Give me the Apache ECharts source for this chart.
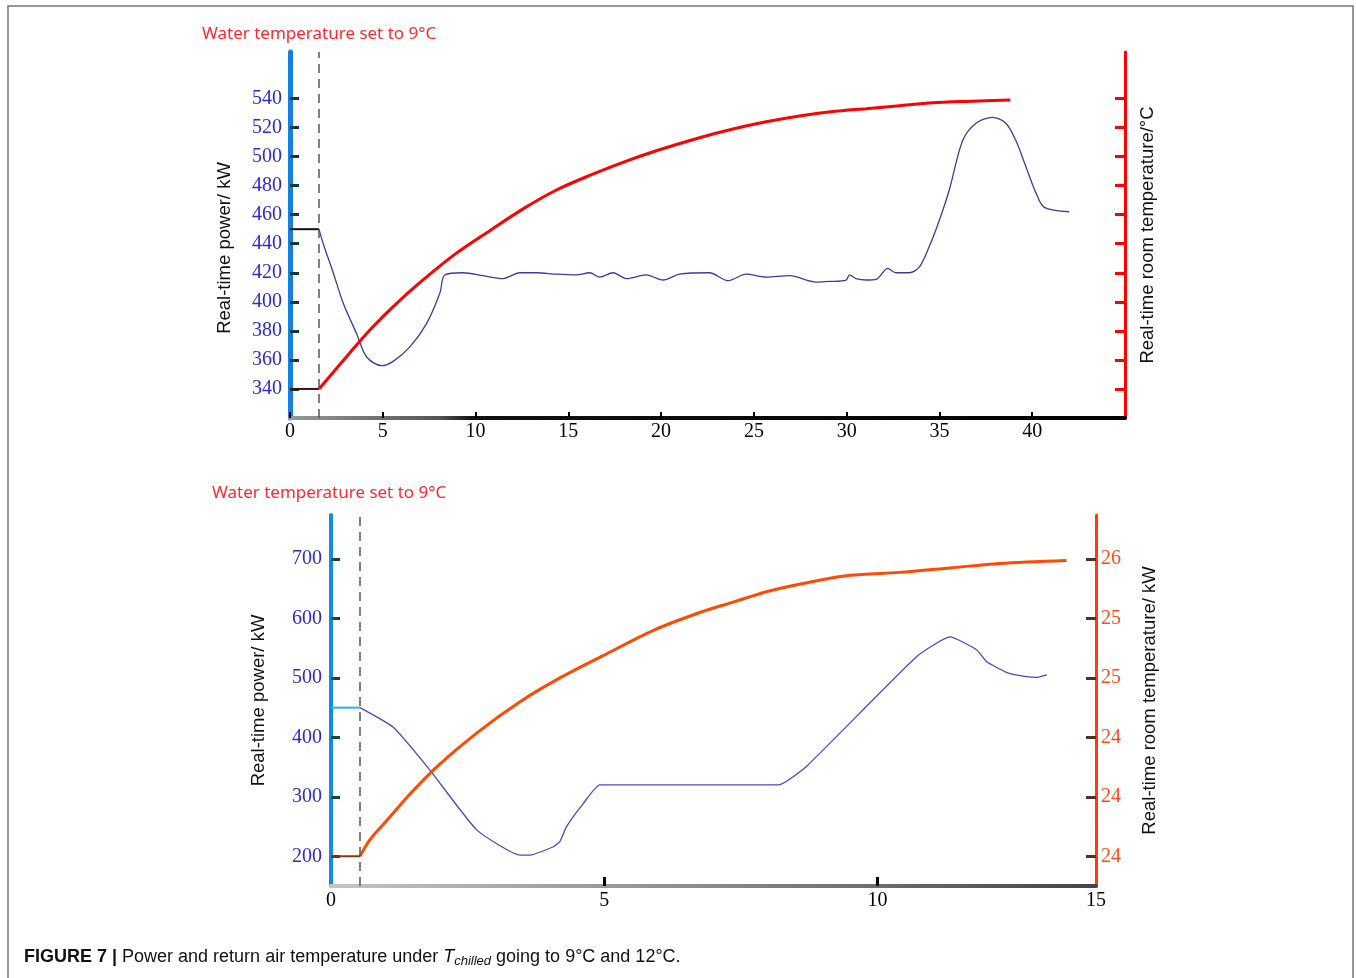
<!DOCTYPE html>
<html>
<head>
<meta charset="utf-8">
<title>Figure 7</title>
<script src="https://cdn.jsdelivr.net/npm/echarts@6/dist/echarts.min.js"></script>
<style>
    html, body { margin: 0; padding: 0; background: #fff; }
    #chart { width: 1356px; height: 978px; }
</style>
</head>
<body>
<div id="chart"></div>
<script>
    // ---- data ----
    // top panel (time in min, power in kW)
    const topPowerTime = [1.56, 1.79, 2.33, 2.87, 3.59, 4.13, 4.94, 5.56, 6.46, 7.36, 8.08, 8.34, 9.33, 10.41, 11.48, 12.38, 13.28, 14.36, 15.43, 16.15, 16.69, 17.41, 18.13, 19.20, 20.10, 21.00, 22.61, 23.60, 24.59, 25.66, 26.92, 28.36, 29.07, 29.97, 30.15, 30.51, 31.05, 31.59, 32.21, 32.66, 33.38, 33.92, 34.45, 34.99, 35.53, 36.25, 36.97, 37.86, 38.58, 39.12, 39.66, 40.20, 40.65, 41.99];
    const topPowerKW = [450, 440, 420, 399, 378, 362, 356, 359, 369, 385, 406, 418.5, 420, 418, 416, 420, 420, 419, 418.5, 420, 417, 420, 416, 418.5, 415, 419, 420, 414.5, 419, 417, 418, 413.6, 414, 415, 418.5, 416, 415, 415.5, 423, 420, 420, 424, 438, 456, 477, 511, 523, 527, 523, 511, 493, 475, 465, 462];
    // room temperature, top right axis carries no numbers (same scale as left)
    const topTempTime = [1.56, 2.33, 3.23, 4.48, 5.92, 7.54, 8.97, 10.77, 12.56, 14.36, 16.15, 17.94, 19.74, 22.07, 23.87, 25.66, 27.46, 29.25, 31.05, 32.84, 34.63, 36.43, 38.82];
    const topTempVal = [340, 351.5, 365, 383, 401, 419, 433.5, 449, 464, 477, 487, 496, 504, 513, 519, 524, 528, 531, 533, 535, 537, 538, 539];
    const topPowerBefore = [[0, 450], [1.56, 450]];
    const topTempBefore = [[0, 340], [1.56, 340]];
    const topSetPoint = 1.56;

    // bottom panel
    const botPowerTime = [0.53, 1.14, 1.81, 2.67, 3.46, 3.64, 4.07, 4.19, 4.31, 4.62, 4.92, 8.19, 8.71, 10.72, 11.33, 11.82, 12.00, 12.37, 12.73, 12.92, 13.10];
    const botPowerKW = [450, 417, 345, 244, 202, 202, 216, 225, 250, 289, 320, 320, 352, 536, 569, 547, 527, 509, 502, 501, 505];
    const botTempTime = [0.53, 0.71, 1.02, 1.45, 1.93, 2.67, 3.46, 4.19, 4.98, 5.90, 6.75, 7.36, 7.97, 8.71, 9.49, 10.40, 11.33, 12.24, 13.46];
    const botTempC = [23.60, 23.71, 23.84, 24.02, 24.20, 24.43, 24.64, 24.80, 24.95, 25.12, 25.24, 25.31, 25.38, 25.44, 25.49, 25.51, 25.54, 25.57, 25.59];
    const botPowerBefore = [[0, 450], [0.53, 450]];
    const botTempBefore = [[0, 23.6], [0.53, 23.6]];
    const botSetPoint = 0.53;

    // tick values / labels
    const topXTicks = [0, 5, 10, 15, 20, 25, 30, 35, 40];
    const topYTicks = [340, 360, 380, 400, 420, 440, 460, 480, 500, 520, 540];
    const botXTicks = [0, 5, 10, 14];
    const botXTickLabels = ['0', '5', '10', '15'];
    const botYTicks = [200, 300, 400, 500, 600, 700];
    const botTempTicks = [23.6, 24.0, 24.4, 24.8, 25.2, 25.6];

    const zip = (xs, ys) => xs.map((x, i) => [x, ys[i]]);

    const serif = 'Liberation Serif';
    const sans = 'Liberation Sans';
    const nameStyle = { color: '#111', fontFamily: sans, fontSize: 18.5 };
    const titleStyle = { color: '#ff2a2a', fontSize: 17, fontWeight: 'normal', fontFamily: 'Noto Sans' };

    const chart = echarts.init(document.getElementById('chart'));

    const dashed = (x) => ({
        silent: true,
        symbol: 'none',
        label: { show: false },
        lineStyle: { color: '#555', width: 1.5, type: [9, 6] },
        data: [{ xAxis: x }]
    });

    chart.setOption({
        backgroundColor: '#fff',
        animation: false,
        title: [
            { text: 'Water temperature set to 9°C', left: 197, top: 21, textStyle: titleStyle },
            { text: 'Water temperature set to 9°C', left: 207, top: 480, textStyle: titleStyle }
        ],
        graphic: [{
            type: 'rect',
            shape: { x: 8, y: 6, width: 1345, height: 1000 },
            style: { fill: 'none', stroke: '#777', lineWidth: 1.5 },
            silent: true
        }, {
            type: 'text',
            left: 24, top: 948,
            style: {
                text: '{b|FIGURE 7 |} Power and return air temperature under {i|T}{s|chilled} going to 9°C and 12°C.',
                fontFamily: sans, fontSize: 18, fill: '#111',
                rich: {
                    b: { fontWeight: 'bold', fontFamily: sans, fontSize: 18 },
                    i: { fontStyle: 'italic', fontFamily: sans, fontSize: 18 },
                    s: { fontStyle: 'italic', fontFamily: sans, fontSize: 13, padding: [8, 0, 0, 0] }
                }
            }
        }],
        grid: [
            { left: 290, top: 52, width: 835, height: 366 },
            { left: 331, top: 515, width: 765, height: 371 }
        ],
        xAxis: [{
            gridIndex: 0, type: 'value', min: 0, max: 45,
            axisLine: {
                lineStyle: {
                    width: 4,
                    color: new echarts.graphic.LinearGradient(0, 0, 1, 0, [
                        { offset: 0, color: '#999' }, { offset: 0.18, color: '#555' },
                        { offset: 0.22, color: '#111' }, { offset: 1, color: '#000' }
                    ])
                }
            },
            axisTick: { inside: true, length: 6, lineStyle: { color: '#000', width: 2 }, customValues: topXTicks },
            axisLabel: { customValues: topXTicks, color: '#000', fontFamily: serif, fontSize: 20, margin: 4 },
            splitLine: { show: false }
        }, {
            gridIndex: 1, type: 'value', min: 0, max: 14,
            axisLine: {
                lineStyle: {
                    width: 4,
                    color: new echarts.graphic.LinearGradient(0, 0, 1, 0, [
                        { offset: 0, color: '#c4c4c4' }, { offset: 0.5, color: '#8a8a8a' },
                        { offset: 1, color: '#444' }
                    ])
                }
            },
            axisTick: { inside: true, length: 9, lineStyle: { color: '#000', width: 3 }, customValues: [5, 10] },
            axisLabel: {
                customValues: botXTicks, color: '#000', fontFamily: serif, fontSize: 20, margin: 5,
                formatter: (v) => botXTickLabels[botXTicks.indexOf(v)]
            },
            splitLine: { show: false }
        }],
        yAxis: [{
            gridIndex: 0, type: 'value', min: 320, max: 572, position: 'left',
            name: 'Real-time power/ kW', nameLocation: 'middle', nameGap: 56,
            nameTextStyle: Object.assign({ padding: [0, 26, 0, 0] }, nameStyle),
            axisLine: { show: true, lineStyle: { color: '#1580e4', width: 5 } },
            axisTick: { show: true, inside: true, length: 9, lineStyle: { color: '#0b3b3b', width: 3 }, customValues: topYTicks },
            axisLabel: { customValues: topYTicks, color: '#2b2bd0', fontFamily: serif, fontSize: 20, margin: 8 },
            splitLine: { show: false }
        }, {
            gridIndex: 0, type: 'value', min: 320, max: 572, position: 'right',
            name: 'Real-time room temperature/°C', nameLocation: 'middle', nameGap: 13, nameRotate: 90,
            nameTextStyle: nameStyle,
            axisLine: { show: true, lineStyle: { color: '#ff0000', width: 3 } },
            axisTick: { show: true, inside: true, length: 10, lineStyle: { color: '#ff0000', width: 3 }, customValues: topYTicks },
            axisLabel: { show: false },
            splitLine: { show: false }
        }, {
            gridIndex: 1, type: 'value', min: 150, max: 774, position: 'left',
            name: 'Real-time power/ kW', nameLocation: 'middle', nameGap: 63,
            nameTextStyle: nameStyle,
            axisLine: { show: true, lineStyle: { color: '#0d8ee0', width: 4 } },
            axisTick: { show: true, inside: true, length: 9, lineStyle: { color: '#0b4a45', width: 3 }, customValues: botYTicks },
            axisLabel: { customValues: botYTicks, color: '#2b2bd0', fontFamily: serif, fontSize: 20, margin: 9 },
            splitLine: { show: false }
        }, {
            gridIndex: 1, type: 'value', min: 23.4, max: 25.896, position: 'right',
            name: 'Real-time room temperature/ kW', nameLocation: 'middle', nameGap: 44, nameRotate: 90,
            nameTextStyle: nameStyle,
            axisLine: { show: true, lineStyle: { color: '#ff3a10', width: 3 } },
            axisTick: { show: true, inside: true, length: 10, lineStyle: { color: '#4a3422', width: 3 }, customValues: botTempTicks },
            axisLabel: {
                customValues: botTempTicks, color: '#ff4a1a', fontFamily: serif, fontSize: 20, margin: 5,
                formatter: (v) => String(Math.round(v))
            },
            splitLine: { show: false }
        }],
        series: [{
            name: 'top power before', type: 'line', xAxisIndex: 0, yAxisIndex: 0,
            data: topPowerBefore, showSymbol: false, lineStyle: { color: '#111', width: 2 }
        }, {
            name: 'top temp before', type: 'line', xAxisIndex: 0, yAxisIndex: 1,
            data: topTempBefore, showSymbol: false, lineStyle: { color: '#3a1010', width: 2 }
        }, {
            name: 'top power', type: 'line', xAxisIndex: 0, yAxisIndex: 0,
            data: zip(topPowerTime, topPowerKW), showSymbol: false, smooth: 0.3,
            lineStyle: { color: '#3c3ca0', width: 1.3 },
            markLine: dashed(topSetPoint)
        }, {
            name: 'top temp', type: 'line', xAxisIndex: 0, yAxisIndex: 1,
            data: zip(topTempTime, topTempVal), showSymbol: false, smooth: 0.3,
            lineStyle: { color: '#ff0000', width: 3 }
        }, {
            name: 'bottom power before', type: 'line', xAxisIndex: 1, yAxisIndex: 2,
            data: botPowerBefore, showSymbol: false, lineStyle: { color: '#1fb8dc', width: 2 }
        }, {
            name: 'bottom temp before', type: 'line', xAxisIndex: 1, yAxisIndex: 3,
            data: botTempBefore, showSymbol: false, lineStyle: { color: '#7a3a1a', width: 2 }
        }, {
            name: 'bottom power', type: 'line', xAxisIndex: 1, yAxisIndex: 2,
            data: zip(botPowerTime, botPowerKW), showSymbol: false, smooth: 0.15,
            lineStyle: { color: '#4a4ac0', width: 1.3 },
            markLine: dashed(botSetPoint)
        }, {
            name: 'bottom temp', type: 'line', xAxisIndex: 1, yAxisIndex: 3,
            data: zip(botTempTime, botTempC), showSymbol: false, smooth: 0.3,
            lineStyle: { color: '#ff4a00', width: 3 }
        }]
    });
</script>
</body>
</html>
